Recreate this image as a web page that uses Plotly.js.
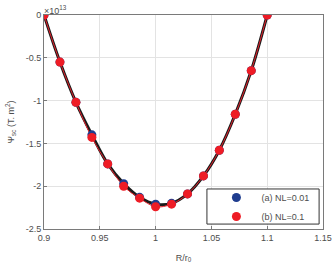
<!DOCTYPE html>
<html><head><meta charset="utf-8">
<script src="https://cdn.plot.ly/plotly-3.0.1.min.js"></script>
<style>body{margin:0;padding:0;background:#fff}#c{width:332px;height:264px}</style>
</head><body><div id="c"></div>
<script>
const rr = [0.9, 0.9143, 0.9286, 0.9429, 0.9571, 0.9714, 0.9857, 1.0, 1.0143, 1.0286, 1.0429, 1.0571, 1.0714, 1.0857, 1.1];
const psiA = [0, -0.55, -1.02, -1.40, -1.74, -1.97, -2.13, -2.21, -2.20, -2.09, -1.88, -1.58, -1.16, -0.65, 0];
const psiB = [0, -0.55, -1.02, -1.43, -1.74, -2.00, -2.14, -2.24, -2.21, -2.09, -1.88, -1.58, -1.16, -0.65, 0];
const xTicks = [0.9, 0.95, 1, 1.05, 1.1, 1.15];
const xTickText = ['0.9', '0.95', '1', '1.05', '1.1', '1.15'];
const yTicks = [0, -0.5, -1, -1.5, -2, -2.5];
const yTickText = ['0', '-0.5', '-1', '-1.5', '-2', '-2.5'];
const names = ['(a) NL=0.01', '(b) NL=0.1'];

const font = {family: 'Liberation Sans, Arial, sans-serif', size: 9, color: '#4d4d4d'};
const data = [
  {x: rr, y: psiA, mode: 'lines', line: {color: '#1a1a1a', width: 3, shape: 'spline'}, showlegend: false, hoverinfo: 'skip'},
  {x: rr, y: psiB, mode: 'lines', line: {color: '#e8212b', width: 1, shape: 'spline'}, showlegend: false, hoverinfo: 'skip'},
  {x: rr, y: psiA, mode: 'markers', name: names[0], marker: {color: '#1f3d8f', size: 9}},
  {x: rr, y: psiB, mode: 'markers', name: names[1], marker: {color: '#ee1c25', size: 9}}
];
const axisCommon = {showgrid: true, gridcolor: '#e3e3e3', gridwidth: 1, zeroline: false, showline: true, linecolor: '#7a7a7a', linewidth: 1, mirror: true, ticks: 'inside', ticklen: 3, tickcolor: '#7a7a7a', tickfont: font};
const layout = {
  width: 332, height: 264,
  margin: {l: 44, r: 9, t: 15, b: 35},
  paper_bgcolor: '#fff', plot_bgcolor: '#fff',
  font: font,
  xaxis: Object.assign({}, axisCommon, {range: [0.9, 1.15], tickvals: xTicks, ticktext: xTickText,
    title: {text: 'R/r<sub>0</sub>', font: font, standoff: 12}}),
  yaxis: Object.assign({}, axisCommon, {range: [-2.5, 0], tickvals: yTicks, ticktext: yTickText,
    title: {text: 'Ψ<sub>sc</sub> (T. m<sup>2</sup>)', font: font, standoff: 9}}),
  legend: {x: 0.6, y: 0.103, xanchor: 'left', yanchor: 'middle', borderwidth: 0, bgcolor: 'rgba(0,0,0,0)', font: font, itemwidth: 40},
  shapes: [{type: 'rect', xref: 'paper', yref: 'paper', x0: 0.584, x1: 0.986, y0: 0.023, y1: 0.187,
    line: {color: '#333', width: 1}, fillcolor: '#fff', layer: 'above'}],
  annotations: [{xref: 'paper', yref: 'paper', x: 0, y: 1, xanchor: 'left', yanchor: 'bottom', showarrow: false,
    text: '×10<sup>13</sup>', font: font, xshift: -2, yshift: -3}]
};
Plotly.newPlot('c', data, layout, {displayModeBar: false, staticPlot: true});
</script></body></html>
